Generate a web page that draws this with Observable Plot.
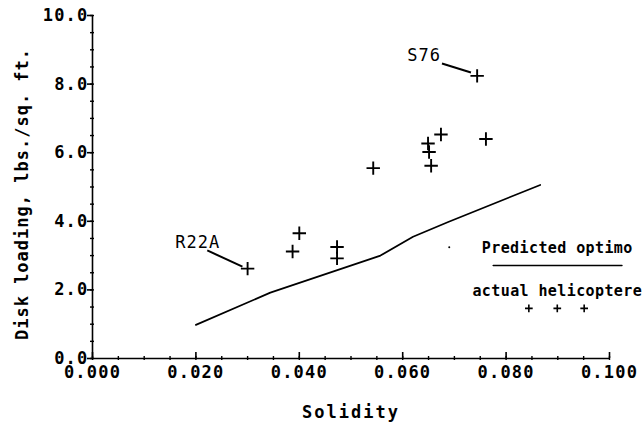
<!DOCTYPE html>
<html>
<head>
<meta charset="utf-8">
<script src="https://cdn.jsdelivr.net/npm/d3@7"></script>
<script src="https://cdn.jsdelivr.net/npm/@observablehq/plot@0.6"></script>
<style>
  html, body { margin: 0; padding: 0; background: #fff; }
</style>
</head>
<body>
<div id="chart"></div>
<script>
// actual helicopters
const heliSolidity = [0.0300, 0.0387, 0.0400, 0.0473, 0.0473, 0.0543, 0.0649, 0.0651, 0.0655, 0.0674, 0.0744, 0.0761];
const heliLoading  = [2.62,   3.12,   3.65,   3.25,   2.92,   5.55,   6.27,   6.02,   5.62,   6.53,   8.24,   6.40];

// predicted optimum curve
const optSolidity = [0.0200, 0.0344, 0.0557, 0.0620, 0.0688, 0.0866];
const optLoading  = [0.98,   1.92,   3.00,   3.55,   3.98,   5.06];

// stray plotter dot
const strayX = [0.0690];
const strayY = [3.24];

// annotations
const annoText = ["R22A", "S76"];
const annoX = [0.0160, 0.0609];
const annoY = [3.38, 8.83];
const leadX1 = [0.0222, 0.0676];
const leadY1 = [3.15, 8.60];
const leadX2 = [0.0290, 0.0732];
const leadY2 = [2.68, 8.34];

// legend
const legendText = ["Predicted optimo", "actual helicoptere"];
const legendTextX = [0.0899, 0.0899];
const legendTextY = [3.21, 1.95];
const legendLineX = [0.0775, 0.1024];
const legendLineY = [2.71, 2.71];
const legendPlusX = [0.0844, 0.0899, 0.0951];
const legendPlusY = [1.46, 1.46, 1.46];

// ticks
const yMajor = [0, 2, 4, 6, 8, 10];
const yMinor = d3.range(0, 10.01, 0.5);
const xMajor = [0, 0.02, 0.04, 0.06, 0.08, 0.1];
const xMinor = d3.range(0, 0.1001, 0.005);

const heli = heliSolidity.map((x, i) => ({x, y: heliLoading[i]}));
const opt = optSolidity.map((x, i) => ({x, y: optLoading[i]}));
const stray = strayX.map((x, i) => ({x, y: strayY[i]}));
const anno = annoText.map((t, i) => ({t, x: annoX[i], y: annoY[i], x1: leadX1[i], y1: leadY1[i], x2: leadX2[i], y2: leadY2[i]}));
const legT = legendText.map((t, i) => ({t, x: legendTextX[i], y: legendTextY[i]}));
const legL = legendLineX.map((x, i) => ({x, y: legendLineY[i]}));
const legP = legendPlusX.map((x, i) => ({x, y: legendPlusY[i]}));

const chart = Plot.plot({
  width: 642,
  height: 423,
  marginLeft: 92,
  marginRight: 33,
  marginTop: 15,
  marginBottom: 65,
  style: {fontFamily: "'DejaVu Sans Mono', monospace", fontSize: "17px", fontWeight: "bold", color: "#000", background: "#fff", letterSpacing: "1.2px"},
  x: {domain: [0, 0.1]},
  y: {domain: [0, 10]},
  marks: [
    // axes lines
    Plot.ruleY([0], {x1: 0, x2: 0.1, stroke: "#000", strokeWidth: 1.6}),
    Plot.ruleX([0], {y1: 0, y2: 10, stroke: "#000", strokeWidth: 1.6}),
    // minor ticks
    Plot.ruleY(yMinor, {y: d => d, x1: 0, x2: 0, insetLeft: -2, insetRight: -2, stroke: "#000", strokeWidth: 1.4}),
    Plot.ruleX(xMinor, {x: d => d, y1: 0, y2: 0, insetTop: -2, insetBottom: -2, stroke: "#000", strokeWidth: 1.4}),
    // major ticks
    Plot.ruleY(yMajor, {y: d => d, x1: 0, x2: 0, insetLeft: -5, insetRight: -1, stroke: "#000", strokeWidth: 1.6}),
    Plot.ruleX(xMajor, {x: d => d, y1: 0, y2: 0, insetTop: -6, insetBottom: 0, stroke: "#000", strokeWidth: 1.6}),
    // tick labels
    Plot.axisY({ticks: yMajor, tickFormat: d3.format(".1f"), tickSize: 0, tickPadding: 4, label: null}),
    Plot.axisX({ticks: xMajor, tickFormat: d3.format(".3f"), tickSize: 0, tickPadding: 7, label: null}),
    // axis titles
    Plot.text(["Disk loading, lbs./sq. ft."], {frameAnchor: "left", dx: -70, dy: 7, rotate: -90, text: d => d, textAnchor: "middle", lineAnchor: "middle"}),
    Plot.text(["Solidity"], {frameAnchor: "bottom", dy: 54, text: d => d, textAnchor: "middle", lineAnchor: "middle"}),
    // predicted line
    Plot.line(opt, {x: "x", y: "y", stroke: "#000", strokeWidth: 1.7}),
    // actual helicopters
    Plot.dot(heli, {x: "x", y: "y", symbol: "plus", r: 4.4, stroke: "#000", strokeWidth: 1.9}),
    Plot.dot(stray, {x: "x", y: "y", r: 1, fill: "#000", stroke: null}),
    // annotations
    Plot.link(anno, {x1: "x1", y1: "y1", x2: "x2", y2: "y2", stroke: "#000", strokeWidth: 2}),
    Plot.text(anno, {x: "x", y: "y", text: "t", textAnchor: "start", lineAnchor: "middle", fontWeight: "normal"}),
    // legend
    Plot.text(legT, {x: "x", y: "y", text: "t", textAnchor: "middle", lineAnchor: "middle", fontSize: 15}),
    Plot.line(legL, {x: "x", y: "y", stroke: "#000", strokeWidth: 1.5}),
    Plot.dot(legP, {x: "x", y: "y", symbol: "plus", r: 2.6, stroke: "#000", strokeWidth: 1.6})
  ]
});
// per-text letter spacing (title, x title, annotations, legend)
const tg = chart.querySelectorAll('g[aria-label="text"]');
const spacing = ["1px", "2px", "1px", "0.4px"];
tg.forEach((g, i) => { if (spacing[i]) g.style.letterSpacing = spacing[i]; });
document.getElementById("chart").appendChild(chart);
</script>
</body>
</html>
